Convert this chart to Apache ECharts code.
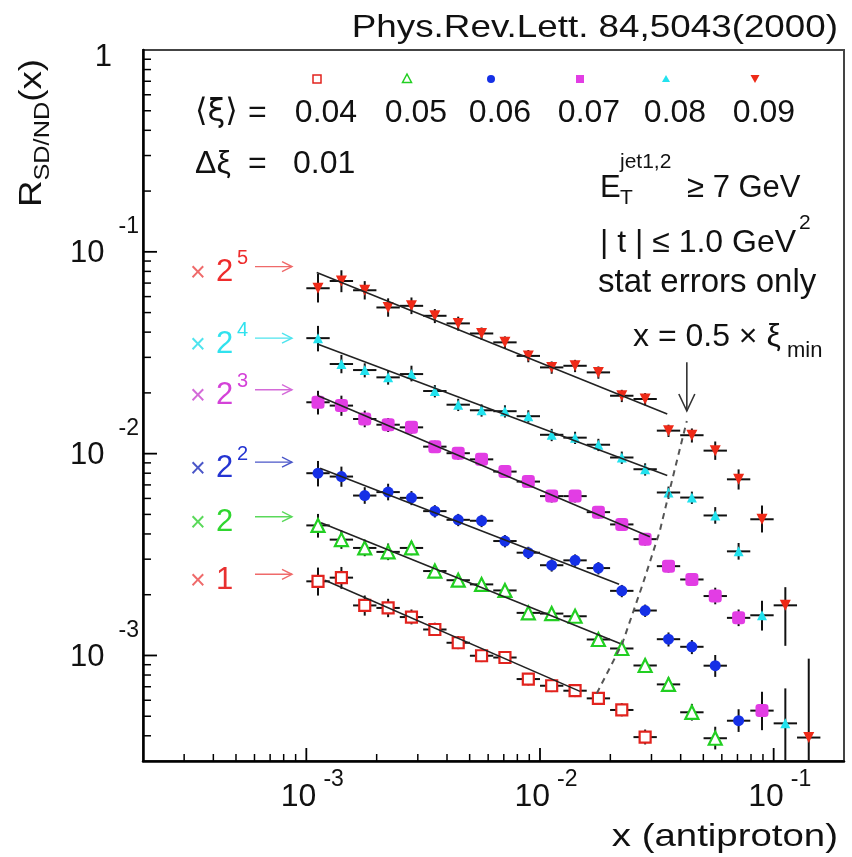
<!DOCTYPE html>
<html><head><meta charset="utf-8">
<script src="https://cdn.jsdelivr.net/npm/echarts@6.0.0/dist/echarts.min.js"></script>
<style>html,body{margin:0;padding:0;background:#fff;}#chart{width:852px;height:857px;}</style>
</head><body><div id="chart"></div>
<script>
// ---------------- data ----------------
// x bin centres and bin edges (x of the antiproton)
const xCenters = [0.001122, 0.001413, 0.001778, 0.002239, 0.002818, 0.003548, 0.004467, 0.005623,
  0.007079, 0.008913, 0.01122, 0.01413, 0.01778, 0.02239, 0.02818, 0.03548, 0.04467, 0.05623,
  0.07079, 0.08913, 0.1122, 0.1413];
const binEdges = [0.001, 0.001259, 0.001585, 0.001995, 0.002512, 0.003162, 0.003981, 0.005012,
  0.00631, 0.007943, 0.01, 0.01259, 0.01585, 0.01995, 0.02512, 0.03162, 0.03981, 0.05012,
  0.0631, 0.07943, 0.1, 0.1259, 0.1585];

const xiValues = ['0.04', '0.05', '0.06', '0.07', '0.08', '0.09'];
const scaleBase = ['1', '2', '2', '2', '2', '2'];
const scaleExp = ['', '', '2', '3', '4', '5'];

// plotted R_SD/ND (already multiplied by the scale factor) and relative stat errors
const R04 = [2.33e-3, 2.43e-3, 1.77e-3, 1.72e-3, 1.55e-3, 1.345e-3, 1.156e-3, 9.97e-4, 9.77e-4,
  7.64e-4, 7.08e-4, 6.69e-4, 6.13e-4, 5.37e-4, 3.94e-4];
const R04up = [0.17, 0.13, 0.12, 0.11, 0.09, 0.08, 0.08, 0.07, 0.07, 0.07, 0.07, 0.07, 0.07, 0.08, 0.09];
const R04dn = [0.15, 0.12, 0.11, 0.10, 0.08, 0.07, 0.07, 0.07, 0.07, 0.07, 0.07, 0.07, 0.07, 0.07, 0.08];

const R05 = [4.41e-3, 3.75e-3, 3.41e-3, 3.26e-3, 3.41e-3, 2.62e-3, 2.36e-3, 2.25e-3, 2.10e-3,
  1.626e-3, 1.613e-3, 1.564e-3, 1.20e-3, 1.083e-3, 8.92e-4, 7.19e-4, 5.23e-4, 3.89e-4];
const R05up = [0.14, 0.11, 0.10, 0.10, 0.08, 0.07, 0.07, 0.07, 0.07, 0.07, 0.07, 0.07, 0.07, 0.07, 0.08, 0.08, 0.10, 0.14];
const R05dn = [0.13, 0.10, 0.09, 0.09, 0.08, 0.07, 0.07, 0.07, 0.07, 0.07, 0.07, 0.07, 0.07, 0.07, 0.08, 0.08, 0.09, 0.12];

const R06 = [8.0e-3, 7.70e-3, 6.20e-3, 6.45e-3, 6.04e-3, 5.19e-3, 4.70e-3, 4.65e-3, 3.69e-3,
  3.23e-3, 2.80e-3, 2.96e-3, 2.71e-3, 2.09e-3, 1.67e-3, 1.204e-3, 1.104e-3, 8.9e-4, 4.75e-4];
const R06up = [0.15, 0.12, 0.10, 0.10, 0.08, 0.07, 0.07, 0.07, 0.07, 0.07, 0.07, 0.07, 0.07, 0.07, 0.07, 0.08, 0.08, 0.13, 0.14];
const R06dn = [0.14, 0.11, 0.09, 0.09, 0.08, 0.07, 0.07, 0.07, 0.07, 0.07, 0.07, 0.07, 0.07, 0.07, 0.07, 0.08, 0.08, 0.12, 0.12];

const R07 = [1.797e-2, 1.73e-2, 1.485e-2, 1.391e-2, 1.35e-2, 1.083e-2, 1.005e-2, 9.37e-3, 8.15e-3,
  7.27e-3, 6.16e-3, 6.16e-3, 5.13e-3, 4.46e-3, 3.77e-3, 2.77e-3, 2.38e-3, 1.97e-3, 1.536e-3, 5.33e-4];
const R07up = [0.14, 0.12, 0.10, 0.08, 0.07, 0.07, 0.07, 0.07, 0.07, 0.07, 0.07, 0.07, 0.07, 0.07, 0.07, 0.07, 0.07, 0.10, 0.10, 0.24];
const R07dn = [0.13, 0.11, 0.09, 0.08, 0.07, 0.07, 0.07, 0.07, 0.07, 0.07, 0.07, 0.07, 0.07, 0.07, 0.07, 0.07, 0.07, 0.09, 0.09, 0.20];

const R08 = [3.735e-2, 2.78e-2, 2.595e-2, 2.388e-2, 2.479e-2, 2.043e-2, 1.748e-2, 1.64e-2, 1.623e-2,
  1.533e-2, 1.24e-2, 1.20e-2, 1.107e-2, 9.57e-3, 8.37e-3, 6.42e-3, 6.06e-3, 4.94e-3, 3.28e-3,
  1.582e-3, 4.61e-4];
const R08up = [0.15, 0.11, 0.08, 0.08, 0.10, 0.07, 0.07, 0.07, 0.07, 0.07, 0.07, 0.07, 0.07, 0.07, 0.07, 0.07, 0.07, 0.10, 0.10, 0.18, 0.49];
const R08dn = [0.14, 0.10, 0.08, 0.08, 0.08, 0.07, 0.07, 0.07, 0.07, 0.07, 0.07, 0.07, 0.07, 0.07, 0.07, 0.07, 0.07, 0.09, 0.09, 0.16, 0.70];

const R09 = [6.60e-2, 7.17e-2, 6.45e-2, 5.30e-2, 5.40e-2, 4.82e-2, 4.42e-2, 3.94e-2, 3.56e-2,
  3.05e-2, 2.675e-2, 2.725e-2, 2.527e-2, 1.936e-2, 1.865e-2, 1.30e-2, 1.234e-2, 1.035e-2, 7.46e-3,
  4.73e-3, 1.772e-3, 3.92e-4];
const R09up = [0.18, 0.13, 0.11, 0.11, 0.10, 0.08, 0.08, 0.07, 0.07, 0.07, 0.07, 0.07, 0.07, 0.07, 0.07, 0.07, 0.08, 0.11, 0.12, 0.17, 0.23, 1.46];
const R09dn = [0.15, 0.12, 0.10, 0.10, 0.09, 0.08, 0.08, 0.07, 0.07, 0.07, 0.07, 0.07, 0.07, 0.07, 0.07, 0.07, 0.08, 0.10, 0.11, 0.14, 0.37, 0.70];

// straight-line fits (end points, x / R)
const fit04 = [[1.202e-3, 2.357e-3], [1.483e-2, 6.64e-4]];
const fit05 = [[1.156e-3, 4.546e-3], [2.20e-2, 1.146e-3]];
const fit06 = [[1.145e-3, 8.476e-3], [2.18e-2, 2.252e-3]];
const fit07 = [[1.122e-3, 1.936e-2], [2.953e-2, 3.877e-3]];
const fit08 = [[1.122e-3, 3.488e-2], [3.504e-2, 7.79e-3]];
const fit09 = [[1.108e-3, 7.89e-2], [3.504e-2, 1.572e-2]];

// x = 0.5 * xi_min boundary (dashed)
const dashX = [0.0175, 0.0225, 0.0275, 0.0325, 0.0375, 0.0425];
const dashY = [6.49e-4, 1.146e-3, 2.25e-3, 4.10e-3, 8.12e-3, 1.452e-2];
const arrowX = [0.0425];
const arrowY = [2.84e-2, 1.627e-2];

// axis ticks
const xMajorTicks = [1e-3, 1e-2, 1e-1];
const xTickExp = ['-3', '-2', '-1'];
const xMinorTicks = [3e-4, 4e-4, 5e-4, 6e-4, 7e-4, 8e-4, 9e-4, 2e-3, 3e-3, 4e-3, 5e-3, 6e-3, 7e-3, 8e-3, 9e-3,
  2e-2, 3e-2, 4e-2, 5e-2, 6e-2, 7e-2, 8e-2, 9e-2];
const yMajorTicks = [1e-3, 1e-2, 1e-1];
const yTickExp = ['-3', '-2', '-1'];
const yTopTick = [1];
const yMinorTicks = [4e-4, 5e-4, 6e-4, 7e-4, 8e-4, 9e-4, 2e-3, 3e-3, 4e-3, 5e-3, 6e-3, 7e-3, 8e-3, 9e-3,
  2e-2, 3e-2, 4e-2, 5e-2, 6e-2, 7e-2, 8e-2, 9e-2, 0.2, 0.3, 0.4, 0.5, 0.6, 0.7, 0.8, 0.9];

// ---------------- style ----------------
const FONT = '"Liberation Sans", Arial, Helvetica, "DejaVu Sans", sans-serif';
const X_RANGE = [2e-4, 0.2];
const Y_RANGE = [3e-4, 1];
const seriesVals = [R04, R05, R06, R07, R08, R09];
const seriesUp = [R04up, R05up, R06up, R07up, R08up, R09up];
const seriesDn = [R04dn, R05dn, R06dn, R07dn, R08dn, R09dn];
const fits = [fit04, fit05, fit06, fit07, fit08, fit09];
const markColors = ['#e2231e', '#22cf22', '#1530e6', '#e23de4', '#22e2ee', '#ee2a18'];
const labelColors = ['#e83030', '#2fd62f', '#2434d2', '#d442d8', '#30e2ee', '#ee2c2c'];
const labelXColors = ['#ef6a6a', '#5ad95a', '#4a56c8', '#d46ad8', '#4ee4ee', '#ef6a6a'];
const symbols = ['rect', 'triangle', 'circle', 'roundRect', 'triangle', 'triangle'];
const symSizes = [11, 13, 11, 13, 10, 11];
const symOpen = [true, true, false, false, false, false];
const symRot = [0, 0, 0, 0, 0, 180];

const chart = echarts.init(document.getElementById('chart'), null, {renderer: 'canvas'});

function line(x1, y1, x2, y2, w, c) {
  return {type: 'line', shape: {x1, y1, x2, y2}, style: {stroke: c || '#000', lineWidth: w || 2}};
}

const series = [];

// axis ticks and tick labels drawn through the axes' scales
series.push({
  type: 'custom', name: 'axes', silent: true, clip: false, z: 10,
  data: [[1e-3, 1e-3]],
  renderItem(params, api) {
    const ch = [];
    xMinorTicks.forEach(v => { const p = api.coord([v, Y_RANGE[0]]); ch.push(line(p[0], p[1], p[0], p[1] - 7, 1.5)); });
    xMajorTicks.forEach((v, i) => {
      const p = api.coord([v, Y_RANGE[0]]);
      ch.push(line(p[0], p[1], p[0], p[1] - 13, 1.8));
      ch.push({type: 'text', x: p[0] + 6, y: p[1] + 14, style: {
        text: '{b|10}{s|' + xTickExp[i] + '}', align: 'center', verticalAlign: 'top',
        rich: {
          b: {fontSize: 32, lineHeight: 32, padding: [12, 0, 0, 0], fontFamily: FONT, fill: '#111'},
          s: {fontSize: 23, lineHeight: 22, padding: [0, 0, 22, 7], fontFamily: FONT, fill: '#111'}
        }}});
    });
    yMinorTicks.forEach(v => { const p = api.coord([X_RANGE[0], v]); ch.push(line(p[0], p[1], p[0] + 8, p[1], 1.5)); });
    yMajorTicks.forEach((v, i) => {
      const p = api.coord([X_RANGE[0], v]);
      ch.push(line(p[0], p[1], p[0] + 14, p[1], 1.8));
      ch.push({type: 'text', x: p[0] - 4, y: p[1] - 9, style: {
        text: '{b|10}{s|' + yTickExp[i] + '}', align: 'right', verticalAlign: 'middle',
        rich: {
          b: {fontSize: 31, lineHeight: 32, padding: [22, 0, 0, 0], fontFamily: FONT, fill: '#111'},
          s: {fontSize: 23, lineHeight: 22, padding: [0, 0, 32, 14], fontFamily: FONT, fill: '#111'}
        }}});
    });
    yTopTick.forEach(v => {
      const p = api.coord([X_RANGE[0], v]);
      ch.push({type: 'text', x: p[0] - 31, y: p[1] + 7, style: {
        text: '1', align: 'right', verticalAlign: 'middle', fontSize: 31, fontFamily: FONT, fill: '#111'}});
    });
    return {type: 'group', children: ch};
  }
});

for (let s = 0; s < 6; s++) {
  const vals = seriesVals[s], up = seriesUp[s], dn = seriesDn[s];
  const data = vals.map((y, i) => [xCenters[i], y, y * (1 + up[i]), y * (1 - dn[i]), binEdges[i], binEdges[i + 1]]);
  // error bars
  series.push({
    type: 'custom', name: 'err' + xiValues[s], silent: true, clip: true, z: 3,
    data, encode: {x: 0, y: 1},
    renderItem(params, api) {
      const c = api.coord([api.value(0), api.value(1)]);
      const t = api.coord([api.value(0), api.value(2)]);
      const b = api.coord([api.value(0), api.value(3)]);
      const l = api.coord([api.value(4), api.value(1)]);
      const r = api.coord([api.value(5), api.value(1)]);
      return {type: 'group', children: [
        line(c[0], t[1], c[0], b[1], 2, '#111'),
        line(l[0], c[1], r[0], c[1], 2, '#111')
      ]};
    }
  });
  // markers
  series.push({
    type: 'scatter', name: xiValues[s], z: 4,
    data: vals.map((y, i) => [xCenters[i], y]),
    symbol: symbols[s], symbolSize: symSizes[s], symbolRotate: symRot[s],
    itemStyle: symOpen[s] ? {color: '#fff', borderColor: markColors[s], borderWidth: 2.2, opacity: 1}
                          : {color: markColors[s], opacity: 1}
  });
  // fit line
  series.push({
    type: 'line', name: 'fit' + xiValues[s], z: 5, data: fits[s], showSymbol: false, symbol: 'none',
    lineStyle: {color: '#222', width: 1.6}, silent: true
  });
}

// boundary x = 0.5 xi_min
series.push({
  type: 'line', name: 'boundary', z: 5, data: dashX.map((x, i) => [x, dashY[i]]), symbol: 'none',
  lineStyle: {color: '#555', width: 2, type: [6, 5]}, silent: true
});
// arrow
series.push({
  type: 'custom', name: 'arrow', silent: true, clip: false, z: 6,
  data: [[arrowX[0], arrowY[0], arrowY[1]]],
  renderItem(params, api) {
    const a = api.coord([api.value(0), api.value(1)]);
    const b = api.coord([api.value(0), api.value(2)]);
    return {type: 'group', children: [
      line(a[0], a[1], b[0], b[1], 1.6, '#333'),
      {type: 'polyline', shape: {points: [[b[0] - 8, b[1] - 17], [b[0], b[1]], [b[0] + 8, b[1] - 17]]},
       style: {stroke: '#333', lineWidth: 1.6, fill: null}}
    ]};
  }
});

const option = {
  animation: false,
  backgroundColor: '#fff',
  grid: {left: 143, right: 8, top: 50, bottom: 96, show: true, borderColor: '#444', borderWidth: 2, backgroundColor: 'transparent'},
  xAxis: {type: 'log', logBase: 10, min: X_RANGE[0], max: X_RANGE[1],
    axisLine: {show: true, onZero: false, lineStyle: {color: '#000', width: 2.5}},
    axisTick: {show: false}, axisLabel: {show: false}, splitLine: {show: false}, minorTick: {show: false}},
  yAxis: {type: 'log', logBase: 10, min: Y_RANGE[0], max: Y_RANGE[1],
    axisLine: {show: true, onZero: false, lineStyle: {color: '#000', width: 2.5}},
    axisTick: {show: false}, axisLabel: {show: false}, splitLine: {show: false}, minorTick: {show: false}},
  series
};
chart.setOption(option);

// ---------------- annotations ----------------
const gfx = [];
gfx.push({type: 'text', x: 838, y: 28, scaleX: 1.15, z: 20,
  style: {text: 'Phys.Rev.Lett. 84,5043(2000)', fontSize: 32, fontFamily: FONT, fill: '#111', align: 'right', verticalAlign: 'middle'}});
gfx.push({type: 'text', x: 838, y: 837, scaleX: 1.2, z: 20,
  style: {text: 'x (antiproton)', fontSize: 32, fontFamily: FONT, fill: '#111', align: 'right', verticalAlign: 'middle'}});
gfx.push({type: 'text', x: 35, y: 133, rotation: Math.PI / 2, scaleX: 1.15, z: 20,
  style: {text: '{r|R}{s|SD/ND}{r|(x)}', align: 'center', verticalAlign: 'middle',
    rich: {r: {fontSize: 32, lineHeight: 32, padding: [0, 0, 5, 0], fontFamily: FONT, fill: '#111'},
           s: {fontSize: 22, lineHeight: 22, padding: [15, 0, 0, 0], fontFamily: FONT, fill: '#111'}}}});

// legend row
const legendCx = [326, 416, 500, 589, 675, 764];
gfx.push({type: 'text', x: 195, y: 113, z: 20, style: {text: '⟨ξ⟩', fontSize: 32, fontFamily: '"DejaVu Sans", ' + FONT, fill: '#111', align: 'left', verticalAlign: 'middle'}});
gfx.push({type: 'text', x: 248, y: 113, z: 20, style: {text: '=', fontSize: 32, fontFamily: FONT, fill: '#111', align: 'left', verticalAlign: 'middle'}});
gfx.push({type: 'text', x: 195, y: 164, z: 20, style: {text: 'Δξ', fontSize: 32, fontFamily: FONT, fill: '#111', align: 'left', verticalAlign: 'middle'}});
gfx.push({type: 'text', x: 248, y: 164, z: 20, style: {text: '=', fontSize: 32, fontFamily: FONT, fill: '#111', align: 'left', verticalAlign: 'middle'}});
gfx.push({type: 'text', x: 293, y: 164, z: 20, style: {text: '0.01', fontSize: 32, fontFamily: FONT, fill: '#111', align: 'left', verticalAlign: 'middle'}});
for (let s = 0; s < 6; s++) {
  const cx = legendCx[s];
  gfx.push({type: 'text', x: cx, y: 113, z: 20, style: {text: xiValues[s], fontSize: 32, fontFamily: FONT, fill: '#111', align: 'center', verticalAlign: 'middle'}});
  const mx = cx - 9, my = 79, c = markColors[s];
  if (s === 0) gfx.push({type: 'rect', shape: {x: mx - 4, y: my - 4, width: 8, height: 8}, style: {fill: '#fff', stroke: c, lineWidth: 1.5}, z: 20});
  if (s === 1) gfx.push({type: 'polygon', shape: {points: [[mx, my - 5], [mx + 4.5, my + 3.5], [mx - 4.5, my + 3.5]]}, style: {fill: '#fff', stroke: c, lineWidth: 1.5}, z: 20});
  if (s === 2) gfx.push({type: 'circle', shape: {cx: mx, cy: my, r: 4}, style: {fill: c}, z: 20});
  if (s === 3) gfx.push({type: 'rect', shape: {x: mx - 4, y: my - 4, width: 8, height: 8}, style: {fill: c}, z: 20});
  if (s === 4) gfx.push({type: 'polygon', shape: {points: [[mx, my - 4], [mx + 4, my + 3], [mx - 4, my + 3]]}, style: {fill: c}, z: 20});
  if (s === 5) gfx.push({type: 'polygon', shape: {points: [[mx, my + 4], [mx + 4.5, my - 4], [mx - 4.5, my - 4]]}, style: {fill: c}, z: 20});
}

// right-hand text block
gfx.push({type: 'text', x: 600, y: 188, z: 20, style: {text: 'E', fontSize: 31, fontFamily: FONT, fill: '#111', verticalAlign: 'middle'}});
gfx.push({type: 'text', x: 620, y: 162, z: 20, style: {text: 'jet1,2', fontSize: 21, fontFamily: FONT, fill: '#111', verticalAlign: 'middle'}});
gfx.push({type: 'text', x: 620, y: 198, z: 20, style: {text: 'T', fontSize: 21, fontFamily: FONT, fill: '#111', verticalAlign: 'middle'}});
gfx.push({type: 'text', x: 687, y: 188, z: 20, style: {text: '≥ 7 GeV', fontSize: 31, fontFamily: FONT, fill: '#111', verticalAlign: 'middle'}});
gfx.push({type: 'text', x: 600, y: 243, z: 20, style: {text: '| t | ≤ 1.0 GeV', fontSize: 32, fontFamily: FONT, fill: '#111', verticalAlign: 'middle'}});
gfx.push({type: 'text', x: 799, y: 223, z: 20, style: {text: '2', fontSize: 21, fontFamily: FONT, fill: '#111', verticalAlign: 'middle'}});
gfx.push({type: 'text', x: 598, y: 283, z: 20, style: {text: 'stat errors only', fontSize: 33, fontFamily: FONT, fill: '#111', verticalAlign: 'middle'}});
gfx.push({type: 'text', x: 633, y: 337, z: 20, style: {text: 'x = 0.5 × ξ', fontSize: 32, fontFamily: FONT, fill: '#111', verticalAlign: 'middle'}});
gfx.push({type: 'text', x: 787, y: 351, z: 20, style: {text: 'min', fontSize: 22, fontFamily: FONT, fill: '#111', verticalAlign: 'middle'}});

// scale-factor labels with arrows, placed at each fit's starting level
for (let s = 0; s < 6; s++) {
  const p = chart.convertToPixel({gridIndex: 0}, fits[s][0]);
  const ya = p[1] - 6, yt = ya + 6;
  gfx.push({type: 'text', x: 190, y: yt + 1, z: 20, style: {text: '×', fontSize: 27, fontFamily: FONT, fill: labelXColors[s], verticalAlign: 'middle'}});
  gfx.push({type: 'text', x: 216, y: yt, z: 20, style: {text: scaleBase[s], fontSize: 31, fontFamily: FONT, fill: labelColors[s], verticalAlign: 'middle'}});
  if (scaleExp[s]) gfx.push({type: 'text', x: 237, y: yt - 14, z: 20, style: {text: scaleExp[s], fontSize: 20, fontFamily: FONT, fill: labelColors[s], verticalAlign: 'middle'}});
  gfx.push({type: 'line', shape: {x1: 255, y1: ya, x2: 292, y2: ya}, style: {stroke: labelXColors[s], lineWidth: 1.4}, z: 20});
  gfx.push({type: 'polyline', shape: {points: [[282, ya - 5], [292, ya], [282, ya + 5]]}, style: {stroke: labelXColors[s], lineWidth: 1.4, fill: null}, z: 20});
}
chart.setOption({graphic: gfx});
</script></body></html>
